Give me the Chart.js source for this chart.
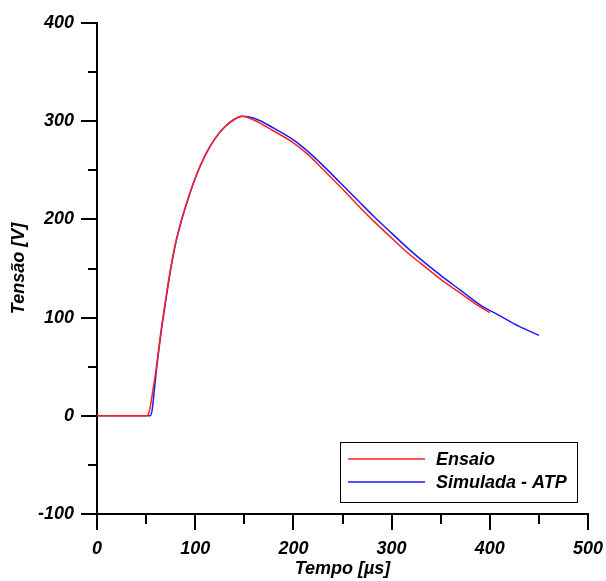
<!DOCTYPE html>
<html>
<head>
<meta charset="utf-8">
<script src="https://cdn.jsdelivr.net/npm/chart.js@4/dist/chart.umd.min.js"></script>
<style>
  body { margin: 0; background: #fff; }
  canvas { display: block; }
</style>
</head>
<body>
<canvas id="myChart" width="606" height="581"></canvas>
<script>
// measured test waveform
var ensaioTempo = [0, 50, 52, 54, 56, 58, 60, 65, 70, 75, 80, 85, 90, 100, 110, 120, 130, 140, 148, 160, 180, 200, 215, 230, 248, 265, 282, 300, 315, 330, 350, 370, 387, 400];
var ensaioTensao = [0, 0, 1, 8, 20, 33, 46, 85, 119, 150, 176, 196, 213, 242, 265, 282, 294, 302, 305, 301, 290, 278, 266, 251, 233, 215, 198, 181, 167, 155, 139, 125, 113, 105];

// ATP simulation
var atpTempo = [0, 54, 56, 58, 60, 65, 70, 75, 80, 85, 90, 100, 110, 120, 130, 140, 148, 160, 180, 200, 215, 230, 248, 265, 282, 300, 315, 330, 350, 370, 390, 410, 430, 450];
var atpTensao = [0, 0, 5, 22, 42, 83, 117, 149, 175, 195, 212, 242, 265, 282, 294, 302, 305, 303, 293, 281, 269, 255, 237, 220, 203, 186, 172, 159, 143, 128, 113, 102, 91, 82];

var xTicks = [0, 100, 200, 300, 400, 500];
var yTicks = [-100, 0, 100, 200, 300, 400];

function pares(xs, ys) {
  return xs.map(function (x, i) { return { x: x, y: ys[i] }; });
}

var fonte = { family: 'Arial, "Liberation Sans", sans-serif', size: 18, weight: 'bold', style: 'italic' };

// axis tick marks: long on the labelled values, short in between
var marcas = {
  id: 'marcas',
  afterDraw: function (chart) {
    var c = chart.ctx;
    var xs = chart.scales.x, ys = chart.scales.y;
    c.save();
    c.strokeStyle = '#000';
    c.lineWidth = 2;
    c.beginPath();
    xs.ticks.forEach(function (t) {
      var px = Math.round(xs.getPixelForValue(t.value));
      var len = xTicks.indexOf(t.value) >= 0 ? 16 : 10;
      c.moveTo(px, ys.bottom);
      c.lineTo(px, ys.bottom + len);
    });
    ys.ticks.forEach(function (t) {
      var py = Math.round(ys.getPixelForValue(t.value));
      var len = yTicks.indexOf(t.value) >= 0 ? 16 : 9;
      c.moveTo(xs.left, py);
      c.lineTo(xs.left - len, py);
    });
    c.stroke();
    c.restore();
  }
};

// boxed legend in the lower right corner
var legenda = {
  id: 'legenda',
  afterDraw: function (chart) {
    var c = chart.ctx;
    c.save();
    c.strokeStyle = '#000';
    c.lineWidth = 1;
    c.strokeRect(340.5, 442.5, 237, 60);
    c.font = 'italic bold 18px Arial, "Liberation Sans", sans-serif';
    c.textBaseline = 'middle';
    c.fillStyle = '#000';
    chart.data.datasets.forEach(function (ds, i) {
      var y = 459 + i * 23;
      c.strokeStyle = ds.borderColor;
      c.lineWidth = 1.5;
      c.beginPath();
      c.moveTo(348, y);
      c.lineTo(425, y);
      c.stroke();
      c.fillText(ds.label, 436, y + 1);
    });
    c.restore();
  }
};

function semFolga(s) {
  s.paddingLeft = 0;
  s.paddingRight = 0;
  s.paddingTop = 0;
  s.paddingBottom = 0;
}

var ctx = document.getElementById('myChart').getContext('2d');
var myChart = new Chart(ctx, {
  type: 'line',
  data: {
    datasets: [{
      label: 'Ensaio',
      data: pares(ensaioTempo, ensaioTensao),
      borderColor: '#ff2020',
      borderWidth: 1.5,
      pointRadius: 0,
      cubicInterpolationMode: 'monotone'
    }, {
      label: 'Simulada - ATP',
      data: pares(atpTempo, atpTensao),
      borderColor: '#1a1aff',
      borderWidth: 1.5,
      pointRadius: 0,
      cubicInterpolationMode: 'monotone'
    }]
  },
  options: {
    responsive: false,
    animation: false,
    devicePixelRatio: 1,
    layout: { padding: { top: 23, right: 18, left: 0, bottom: 0 } },
    plugins: {
      legend: { display: false },
      tooltip: { enabled: false }
    },
    scales: {
      x: {
        type: 'linear',
        min: 0,
        max: 500,
        afterFit: function (s) { s.height = 67; semFolga(s); },
        ticks: {
          stepSize: 50,
          padding: 24,
          maxRotation: 0,
          color: '#000',
          font: fonte,
          callback: function (v) { return xTicks.indexOf(v) >= 0 ? v : ''; }
        },
        grid: { display: false, drawTicks: false },
        border: { display: true, color: '#000', width: 2 },
        title: { display: true, text: 'Tempo [µs]', color: '#000', font: fonte, padding: { top: 0, bottom: 1 } }
      },
      y: {
        min: -100,
        max: 400,
        afterFit: function (s) { s.width = 97; semFolga(s); },
        ticks: {
          stepSize: 50,
          padding: 23,
          color: '#000',
          font: fonte,
          callback: function (v) { return yTicks.indexOf(v) >= 0 ? v : ''; }
        },
        grid: { display: false, drawTicks: false },
        border: { display: true, color: '#000', width: 2 },
        title: { display: true, text: 'Tensão [V]', color: '#000', font: fonte, padding: { top: 8, bottom: 0 } }
      }
    }
  },
  plugins: [marcas, legenda]
});
</script>
</body>
</html>
